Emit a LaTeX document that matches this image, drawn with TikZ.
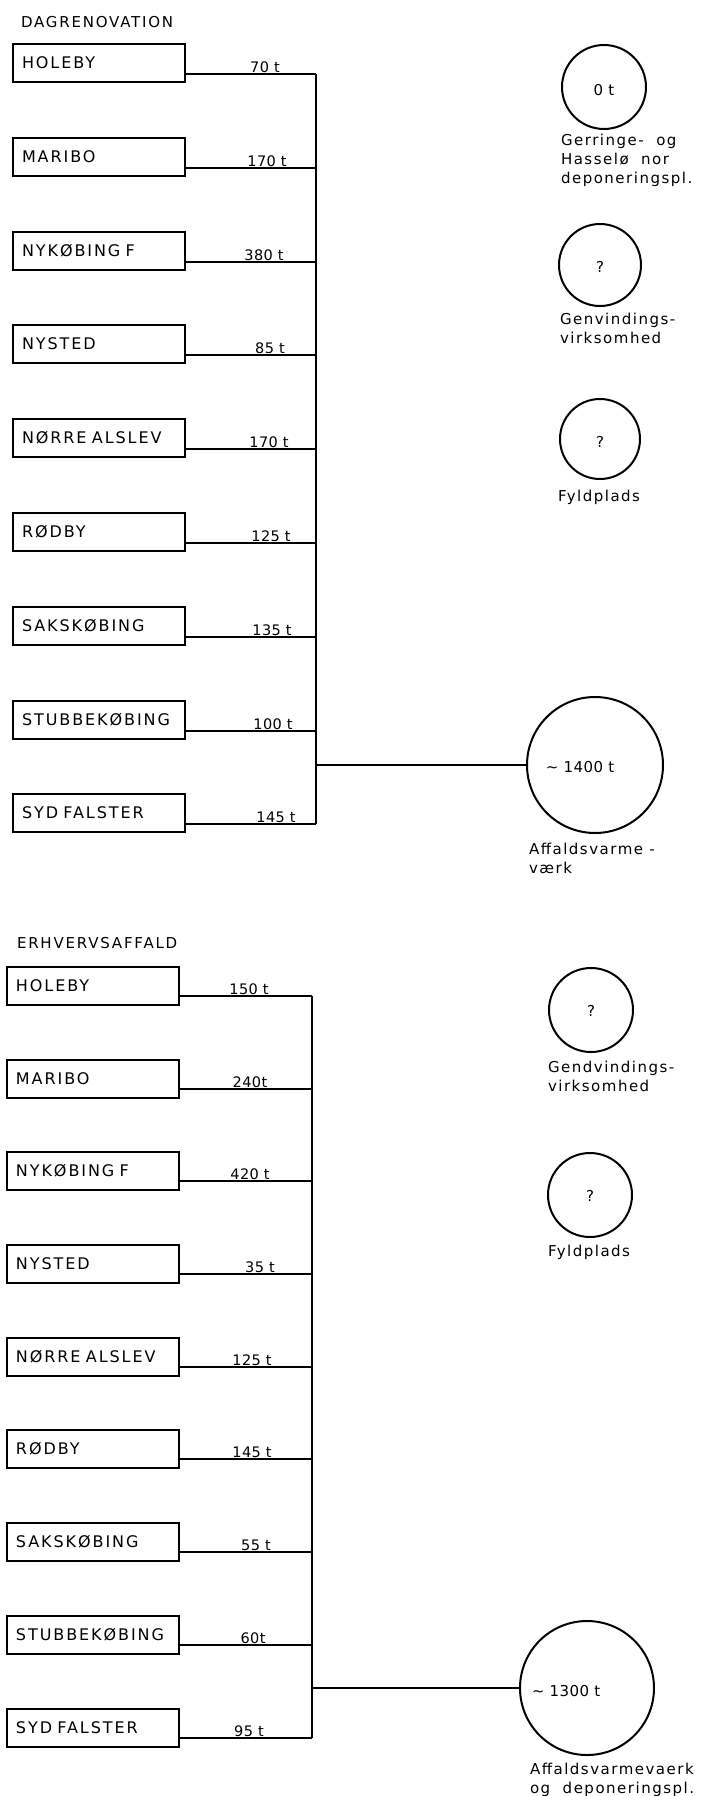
\documentclass[tikz,border=0pt]{standalone}
\usepackage{fontspec}
\setmainfont{DejaVu Sans}
\newfontfamily\boxfont[LetterSpace=12,WordSpace=1.4]{DejaVu Sans}
\newfontfamily\lblfont[LetterSpace=10]{DejaVu Sans}
\newfontfamily\numfont[LetterSpace=3]{DejaVu Sans}
\begin{document}
\begin{tikzpicture}[x=1pt,y=-1pt,line width=2pt,
  town/.style={draw, rectangle, minimum height=38pt, text width=154pt, inner xsep=9pt,
    align=left, anchor=west, font=\boxfont\fontsize{16}{18}\selectfont},
  heading/.style={anchor=west, inner sep=0pt, font=\boxfont\fontsize{15}{18}\selectfont},
  amount/.style={anchor=base, inner sep=0pt, font=\numfont\fontsize{14.5}{17}\selectfont},
  ring/.style={draw, circle, inner sep=0pt},
  intext/.style={inner sep=0pt, font=\numfont\fontsize{15}{17}\selectfont},
  caption/.style={anchor=north west, inner sep=0pt, align=left, font=\lblfont\fontsize{15}{19}\selectfont}]
\useasboundingbox (0,0) rectangle (712,1796);
\fill[white] (0,0) rectangle (712,1796);

% ---------------- DAGRENOVATION ----------------
\node[heading] (ta) at (20,22) {DAGRENOVATION};
\foreach \i/\nm/\amt/\lx in {1/HOLEBY/70 t/265, 2/MARIBO/170 t/267, 3/NYKØBING F/380 t/264,
    4/NYSTED/85 t/270, 5/NØRRE ALSLEV/170 t/269, 6/RØDBY/125 t/271,
    7/SAKSKØBING/135 t/272, 8/STUBBEKØBING/100 t/273, 9/SYD FALSTER/145 t/276}{
  \pgfmathtruncatemacro\ly{round(74+93.8*(\i-1))}
  \node[town] (a\i) at (12,\ly-11) {\nm};
  \coordinate (ja\i) at (316,\ly);
  \draw (a\i.east |- ja\i) -- (ja\i);
  \node[amount] (la\i) at (\lx,\ly-2) {\amt};
}
\draw (ja1) -- (ja9);
\coordinate (hubA) at (316,765);
\node[ring, minimum size=136pt] (bigA) at (595,765) {};
\draw (hubA) -- (bigA.west);
\node[intext] (tbigA) at (580,767) {\textasciitilde\ 1400 t};
\node[caption] (capbigA) at (528,842) {Affaldsvarme -\\værk};

\node[ring, minimum size=84pt] (ca1) at (604,87) {};
\node[intext] (tca1) at (604,90) {0 t};
\node[caption] (capca1) at (560,133) {Gerringe-\ \ og\\Hasselø\ \ nor\\deponeringspl.};

\node[ring, minimum size=82pt] (ca2) at (600,265) {};
\node[intext] (tca2) at (600,267) {?};
\node[caption] (capca2) at (559,312.5) {Genvindings-\\virksomhed};

\node[ring, minimum size=80pt] (ca3) at (600,439) {};
\node[intext] (tca3) at (600,442) {?};
\node[caption] (capca3) at (557,489) {Fyldplads};

% ---------------- ERHVERVSAFFALD ----------------
\node[heading] (tb) at (16,943) {ERHVERVSAFFALD};
\foreach \i/\nm/\amt/\lx in {1/HOLEBY/150 t/249, 2/MARIBO/240t/250, 3/NYKØBING F/420 t/250,
    4/NYSTED/35 t/260, 5/NØRRE ALSLEV/125 t/252, 6/RØDBY/145 t/252,
    7/SAKSKØBING/55 t/256, 8/STUBBEKØBING/60t/253, 9/SYD FALSTER/95 t/249}{
  \pgfmathtruncatemacro\ly{round(996+92.7*(\i-1))}
  \node[town] (b\i) at (6,\ly-10.5) {\nm};
  \coordinate (jb\i) at (312,\ly);
  \draw (b\i.east |- jb\i) -- (jb\i);
  \node[amount] (lb\i) at (\lx,\ly-2) {\amt};
}
\draw (jb1) -- (jb9);
\coordinate (hubB) at (312,1688);
\node[ring, minimum size=134pt] (bigB) at (587,1688) {};
\draw (hubB) -- (bigB.west);
\node[intext] (tbigB) at (566,1691) {\textasciitilde\ 1300 t};
\node[caption] (capbigB) at (529,1762) {Affaldsvarmevaerk\\og\ \ deponeringspl.};

\node[ring, minimum size=84pt] (cb1) at (591,1010) {};
\node[intext] (tcb1) at (591,1011) {?};
\node[caption] (capcb1) at (547,1060) {Gendvindings-\\virksomhed};

\node[ring, minimum size=84pt] (cb2) at (590,1195) {};
\node[intext] (tcb2) at (590,1196) {?};
\node[caption] (capcb2) at (547,1244) {Fyldplads};
\end{tikzpicture}
\end{document}
